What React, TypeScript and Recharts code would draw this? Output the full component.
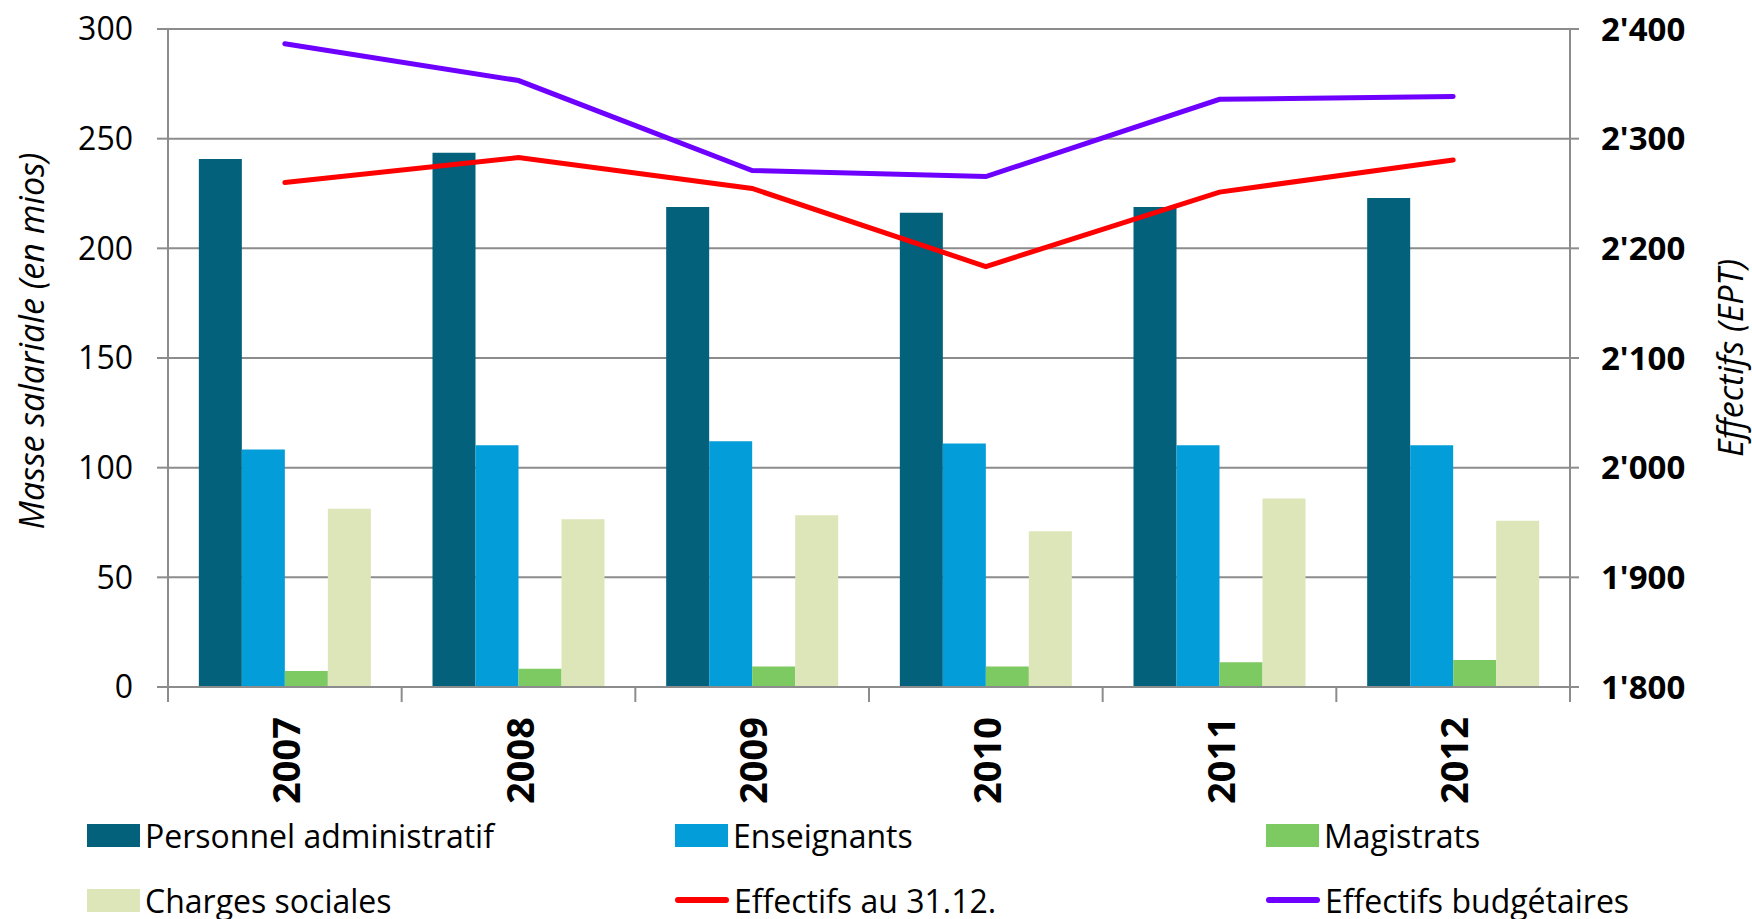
import React from 'react';
import { ComposedChart, Bar, Line, XAxis, YAxis, CartesianGrid, Legend } from 'recharts';

// years on the category axis
const YEARS = ['2007', '2008', '2009', '2010', '2011', '2012'];

// salary mass, in millions (left axis)
const PERSONNEL_ADMIN = [240.7, 243.6, 218.9, 216.2, 218.9, 222.9];
const ENSEIGNANTS = [108.3, 110.2, 112.1, 111.0, 110.2, 110.2];
const MAGISTRATS = [7.3, 8.3, 9.4, 9.4, 11.3, 12.3];
const CHARGES_SOCIALES = [81.3, 76.5, 78.3, 71.0, 85.9, 75.8];

// headcount, full-time equivalents (right axis)
const EFFECTIFS_3112 = [2260, 2282.7, 2254.6, 2183.4, 2251.3, 2280.6];
const EFFECTIFS_BUDGET = [2386.6, 2353, 2271, 2265.5, 2335.9, 2338.4];

const LEFT_TICKS = [0, 50, 100, 150, 200, 250, 300];
const RIGHT_TICKS = [1800, 1900, 2000, 2100, 2200, 2300, 2400];

const SERIES = [
    { key: 'admin', name: 'Personnel administratif', color: '#04617B', kind: 'bar' },
    { key: 'ens', name: 'Enseignants', color: '#039DD9', kind: 'bar' },
    { key: 'mag', name: 'Magistrats', color: '#7DC962', kind: 'bar' },
    { key: 'charges', name: 'Charges sociales', color: '#DCE6B9', kind: 'bar' },
    { key: 'eff', name: 'Effectifs au 31.12.', color: '#FF0000', kind: 'line' },
    { key: 'budget', name: 'Effectifs budgétaires', color: '#6E00FF', kind: 'line' },
];

const data = YEARS.map((year, i) => ({
    year,
    admin: PERSONNEL_ADMIN[i],
    ens: ENSEIGNANTS[i],
    mag: MAGISTRATS[i],
    charges: CHARGES_SOCIALES[i],
    eff: EFFECTIFS_3112[i],
    budget: EFFECTIFS_BUDGET[i],
}));

const FONT = '"Open Sans", sans-serif';
const GRID = '#8C8C8C';

const fmtThousands = (v: number) => {
    const s = String(v);
    return s.length > 3 ? s.slice(0, s.length - 3) + "'" + s.slice(-3) : s;
};

const YearTick = (props: any) => {
    const { x, y, payload, index } = props;
    const half = payload && payload.offset ? payload.offset : 0;
    const isLast = index === YEARS.length - 1;
    const ly = y + 30;
    return (
        <g>
            <line x1={x - half} x2={x - half} y1={y} y2={y + 15} stroke={GRID} strokeWidth={2} />
            {isLast && <line x1={x + half} x2={x + half} y1={y} y2={y + 15} stroke={GRID} strokeWidth={2} />}
            <text
                x={x}
                y={ly}
                transform={`rotate(-90, ${x}, ${ly})`}
                textAnchor="end"
                dominantBaseline="central"
                fontFamily={FONT}
                fontWeight={700}
                fontSize={38}
                fill="#000"
            >
                {payload.value}
            </text>
        </g>
    );
};

const AxisTitle = (props: any) => {
    const { viewBox, value, dx, dy } = props;
    if (!viewBox) return null;
    const cx = viewBox.x + dx;
    const cy = viewBox.y + viewBox.height / 2 + dy;
    return (
        <text
            transform={`translate(${cx}, ${cy}) rotate(-90)`}
            textAnchor="middle"
            dominantBaseline="central"
            fontFamily={FONT}
            fontStyle="italic"
            fontSize={34}
            fill="#000"
        >
            {value}
        </text>
    );
};

const LEGEND_COLS = [87, 675, 1266];
const LEGEND_ROWS = [30, 95];

const renderLegend = () => (
    <div style={{ position: 'relative', width: 1752, height: 114, fontFamily: FONT }}>
        {SERIES.map((s, i) => (
            <div
                key={s.key}
                style={{
                    position: 'absolute',
                    left: LEGEND_COLS[i % 3],
                    top: LEGEND_ROWS[Math.floor(i / 3)] - 22,
                    height: 44,
                    display: 'flex',
                    alignItems: 'center',
                    gap: 5,
                }}
            >
                {s.kind === 'bar' ? (
                    <div style={{ width: 53, height: 23, background: s.color }} />
                ) : (
                    <div style={{ width: 54, height: 6, borderRadius: 3, background: s.color }} />
                )}
                <span style={{ fontSize: 32, color: '#000', whiteSpace: 'nowrap' }}>{s.name}</span>
            </div>
        ))}
    </div>
);

export default function App() {
    return (
        <div style={{ position: 'absolute', left: 0, top: 0, width: 1752, height: 919, background: '#fff', fontFamily: FONT }}>
            <ComposedChart
                width={1752}
                height={919}
                data={data}
                margin={{ top: 29, right: 0, bottom: 0, left: 0 }}
                barCategoryGap="13.2%"
                barGap={0}
            >
                <CartesianGrid yAxisId="left" vertical={false} stroke={GRID} strokeWidth={2} />
                <XAxis
                    dataKey="year"
                    height={232}
                    axisLine={{ stroke: GRID, strokeWidth: 2 }}
                    tickLine={false}
                    tickSize={0}
                    tickMargin={0}
                    interval={0}
                    tick={<YearTick />}
                />
                <YAxis
                    yAxisId="left"
                    width={168}
                    domain={[0, 300]}
                    ticks={LEFT_TICKS}
                    interval={0}
                    axisLine={{ stroke: GRID, strokeWidth: 2 }}
                    tickLine={{ stroke: GRID, strokeWidth: 2 }}
                    tickSize={11}
                    tickMargin={24}
                    tick={{ fontSize: 32, fill: '#000', fontFamily: FONT }}
                    label={<AxisTitle value="Masse salariale (en mios)" dx={31} dy={-17} />}
                />
                <YAxis
                    yAxisId="right"
                    orientation="right"
                    width={182}
                    domain={[1800, 2400]}
                    ticks={RIGHT_TICKS}
                    interval={0}
                    tickFormatter={fmtThousands}
                    axisLine={{ stroke: GRID, strokeWidth: 2 }}
                    tickLine={{ stroke: GRID, strokeWidth: 2 }}
                    tickSize={9}
                    tickMargin={22}
                    tick={{ fontSize: 33, fontWeight: 700, fill: '#000', fontFamily: FONT }}
                    label={<AxisTitle value="Effectifs (EPT)" dx={160} dy={0} />}
                />
                {SERIES.filter((s) => s.kind === 'bar').map((s) => (
                    <Bar key={s.key} yAxisId="left" dataKey={s.key} name={s.name} fill={s.color} isAnimationActive={false} />
                ))}
                {SERIES.filter((s) => s.kind === 'line').map((s) => (
                    <Line
                        key={s.key}
                        yAxisId="right"
                        type="linear"
                        dataKey={s.key}
                        name={s.name}
                        stroke={s.color}
                        strokeWidth={5}
                        strokeLinecap="round"
                        dot={false}
                        activeDot={false}
                        isAnimationActive={false}
                    />
                ))}
                <Legend
                    layout="horizontal"
                    verticalAlign="middle"
                    align="center"
                    content={renderLegend}
                    wrapperStyle={{ position: 'absolute', left: 0, top: 805, width: 1752, height: 114 }}
                />
            </ComposedChart>
        </div>
    );
}
